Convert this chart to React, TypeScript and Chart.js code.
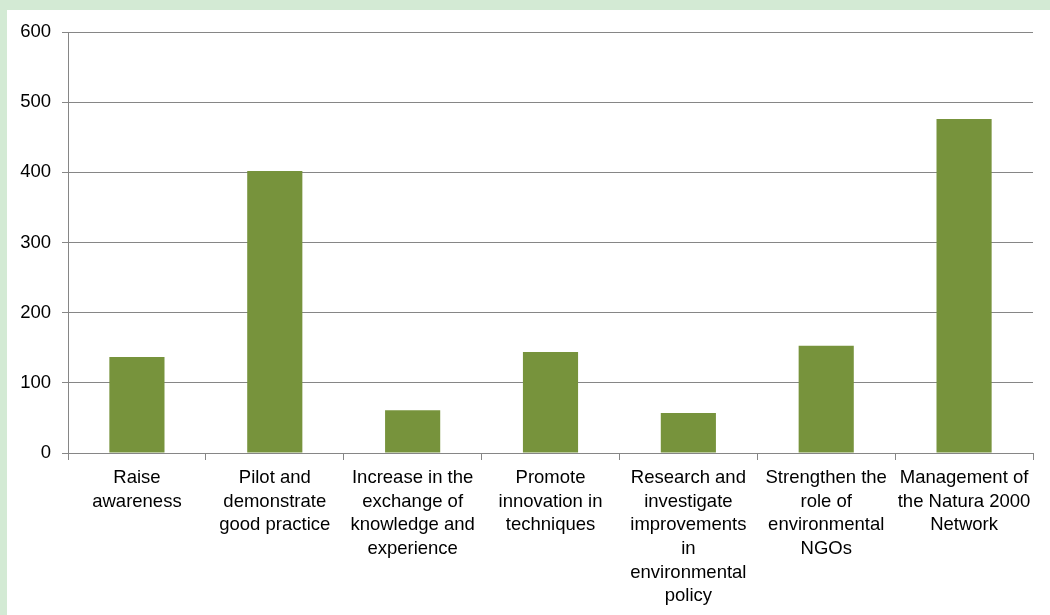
import React, { useEffect, useRef } from "react";
import { Chart, registerables } from "chart.js";

Chart.register(...registerables);

const categories: string[][] = [
  ["Raise", "awareness"],
  ["Pilot and", "demonstrate", "good practice"],
  ["Increase in the", "exchange of", "knowledge and", "experience"],
  ["Promote", "innovation in", "techniques"],
  ["Research and", "investigate", "improvements", "in", "environmental", "policy"],
  ["Strengthen the", "role of", "environmental", "NGOs"],
  ["Management of", "the Natura 2000", "Network"],
];

const values: number[] = [137, 402, 61, 144, 57, 153, 476];

const yMin = 0;
const yMax = 600;
const yStep = 100;

export default function App() {
  const canvasRef = useRef<HTMLCanvasElement | null>(null);

  useEffect(() => {
    document.body.style.margin = "0";
    const canvas = canvasRef.current;
    if (!canvas) return;
    const chart = new Chart(canvas, {
      type: "bar",
      data: {
        labels: categories,
        datasets: [
          {
            data: values,
            backgroundColor: "#77933c",
            borderWidth: 0,
            categoryPercentage: 0.4,
            barPercentage: 1,
          },
        ],
      },
      options: {
        animation: false,
        responsive: false,
        maintainAspectRatio: false,
        layout: { padding: { top: 22, right: 17, left: 0, bottom: 0 } },
        plugins: {
          legend: { display: false },
          tooltip: { enabled: false },
        },
        scales: {
          x: {
            grid: {
              offset: true,
              drawOnChartArea: false,
              drawTicks: true,
              tickLength: 7,
              color: "#868686",
            },
            border: { color: "#868686", width: 1 },
            ticks: {
              color: "#000000",
              font: { family: "Liberation Sans", size: 18.5, lineHeight: 1.28 },
              maxRotation: 0,
              minRotation: 0,
              autoSkip: false,
              padding: 6,
            },
            afterFit: (scale: any) => {
              scale.height = 162;
            },
          },
          y: {
            min: yMin,
            max: yMax,
            grid: {
              color: "#868686",
              tickLength: 6,
            },
            border: { color: "#868686", width: 1 },
            ticks: {
              stepSize: yStep,
              color: "#000000",
              font: { family: "Liberation Sans", size: 18.5 },
              padding: 11,
            },
            afterFit: (scale: any) => {
              scale.width = 61;
            },
          },
        },
      },
    });
    return () => chart.destroy();
  }, []);

  return (
    <div
      style={{
        position: "fixed",
        left: 0,
        top: 0,
        width: 1050,
        height: 615,
        background: "#d3ead4",
      }}
    >
      <div
        style={{
          position: "absolute",
          left: 7,
          top: 10,
          width: 1043,
          height: 605,
          background: "#ffffff",
        }}
      >
        <canvas ref={canvasRef} width={1043} height={605} style={{ display: "block" }} />
      </div>
    </div>
  );
}
